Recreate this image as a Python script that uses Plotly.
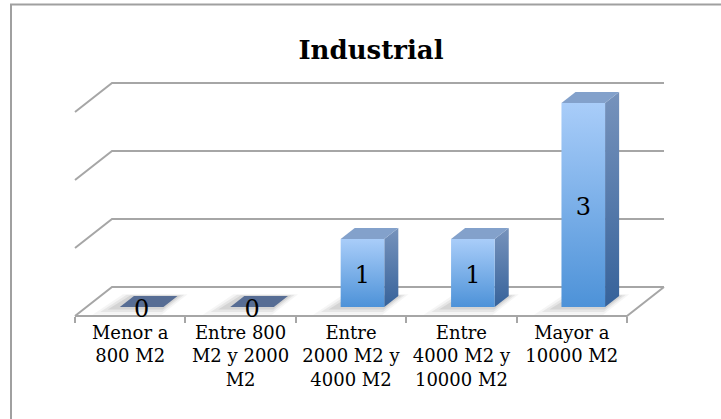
import plotly.graph_objects as go

# ---- data ----
categories = ["Menor a<br>800 M2", "Entre 800<br>M2 y 2000<br>M2", "Entre<br>2000 M2 y<br>4000 M2",
              "Entre<br>4000 M2 y<br>10000 M2", "Mayor a<br>10000 M2"]
values = [0, 0, 1, 1, 3]
gridvals = [0, 1, 2, 3]
title = "Industrial"

# ---- oblique projection (layout / styling) ----
W, H = 721, 419
PX0, PXC = 75, 110.4      # front plane: pixel of category 0 and pixels per category
PY0, PYV = 316, 68        # front plane: pixel of value 0 and pixels per value unit
DXP, DYP = 37, 29         # depth offset in pixels (front -> back)
DX, DY = DXP / PXC, DYP / PYV
N = len(categories)
BW = 0.395                # bar width (category units)
D0, D1 = 0.31, 0.69       # bar depth extent
LABEL_SHIFT = 4 / PYV     # small downward nudge of data labels

def P(c, v, d):
    return c + DX * d, v + DY * d

def poly(pts):
    xs = [P(*p)[0] for p in pts] + [P(*pts[0])[0]]
    ys = [P(*p)[1] for p in pts] + [P(*pts[0])[1]]
    return xs, ys

GRID = "#A6A6A6"
fig = go.Figure()

# back wall gridlines + left wall diagonals
gx, gy = [], []
for g in gridvals:
    for p in [(0, g, 0), (0, g, 1), (N, g, 1)]:
        x, y = P(*p); gx.append(x); gy.append(y)
    gx.append(None); gy.append(None)
# floor front and right edges
for p in [(0, 0, 0), (N, 0, 0), (N, 0, 1)]:
    x, y = P(*p); gx.append(x); gy.append(y)
fig.add_trace(go.Scatter(x=gx, y=gy, mode="lines", line=dict(color=GRID, width=2),
                         hoverinfo="skip", showlegend=False))

# soft shadows on the floor
for i, v in enumerate(values):
    cl = i + (1 - BW) / 2
    cr = cl + BW
    for k, (ex, op) in enumerate([(0.12, 0.04), (0.08, 0.06), (0.04, 0.08)]):
        xs, ys = poly([(cl - ex - 0.04, 0, D0 - ex * 2.2), (cr + ex * 0.6, 0, D0 - ex * 2.2),
                       (cr + ex * 0.6, 0, D1 + ex * 0.5), (cl - ex, 0, D1 + ex * 0.5)])
        fig.add_trace(go.Scatter(x=xs, y=ys, mode="lines", fill="toself",
                                 fillcolor=f"rgba(0,0,0,{op})", line=dict(width=0),
                                 hoverinfo="skip", showlegend=False))

# bars
for i, v in enumerate(values):
    cl = i + (1 - BW) / 2
    cr = cl + BW
    if v > 0:
        # side face
        xs, ys = poly([(cr, 0, D0), (cr, 0, D1), (cr, v, D1), (cr, v, D0)])
        fig.add_trace(go.Scatter(x=xs, y=ys, mode="lines", fill="toself", line=dict(width=0),
                                 fillgradient=dict(type="vertical",
                                                   start=P(0, 0, D0)[1], stop=P(0, v, D1)[1],
                                                   colorscale=[[0, "#36629A"], [1, "#7793BC"]]),
                                 hoverinfo="skip", showlegend=False))
        # top face
        xs, ys = poly([(cl, v, D0), (cr, v, D0), (cr, v, D1), (cl, v, D1)])
        fig.add_trace(go.Scatter(x=xs, y=ys, mode="lines", fill="toself", line=dict(width=0),
                                 fillcolor="#83A1CB", hoverinfo="skip", showlegend=False))
        # front face
        xs, ys = poly([(cl, 0, D0), (cr, 0, D0), (cr, v, D0), (cl, v, D0)])
        fig.add_trace(go.Scatter(x=xs, y=ys, mode="lines", fill="toself", line=dict(width=0),
                                 fillgradient=dict(type="vertical",
                                                   start=P(0, 0, D0)[1], stop=P(0, v, D0)[1],
                                                   colorscale=[[0, "#4D92D8"], [1, "#A9CDF9"]]),
                                 hoverinfo="skip", showlegend=False))
    else:
        xs, ys = poly([(cl, 0, D0), (cr, 0, D0), (cr, 0, D1), (cl, 0, D1)])
        fig.add_trace(go.Scatter(x=xs, y=ys, mode="lines", fill="toself", line=dict(width=0),
                                 fillcolor="#576D94", hoverinfo="skip", showlegend=False))

# data labels
lx = [P(i + 0.5, v / 2, D0)[0] for i, v in enumerate(values)]
ly = [P(i + 0.5, v / 2, D0)[1] - LABEL_SHIFT for i, v in enumerate(values)]
fig.add_trace(go.Scatter(x=lx, y=ly, mode="text", text=[str(v) for v in values],
                         textposition="middle center",
                         textfont=dict(family="DejaVu Serif", size=24, color="black"),
                         hoverinfo="skip", showlegend=False))

# category axis (labels + boundary ticks)
fig.add_trace(go.Scatter(x=[None], y=[None], xaxis="x2", yaxis="y", showlegend=False,
                         hoverinfo="skip"))

fig.update_layout(
    width=W, height=H,
    margin=dict(l=0, r=0, t=0, b=0, autoexpand=False),
    paper_bgcolor="white", plot_bgcolor="rgba(0,0,0,0)",
    xaxis=dict(range=[(0 - PX0) / PXC, (W - PX0) / PXC], visible=False, domain=[0, 1]),
    yaxis=dict(range=[(PY0 - H) / PYV, PY0 / PYV], visible=False, domain=[0, 1]),
    xaxis2=dict(domain=[PX0 / W, (PX0 + N * PXC) / W], range=[0, N], anchor="free",
                position=(H - PY0) / H, showgrid=False, zeroline=False, showline=False,
                tickmode="array", tickvals=[i + 0.5 for i in range(N)], ticktext=categories,
                ticks="", ticklabelstandoff=4,
                tickfont=dict(family="DejaVu Serif", size=18, color="black"),
                minor=dict(tickmode="array", tickvals=list(range(N + 1)), ticks="outside",
                           ticklen=6, tickwidth=2, tickcolor=GRID),
                automargin=False),
    title=dict(text=f"<b>{title}</b>", x=371 / W, y=1 - 50 / H, xanchor="center", yanchor="middle",
               xref="paper", yref="paper",
               font=dict(family="DejaVu Serif", size=26, color="black")),
    shapes=[dict(type="rect", xref="paper", yref="paper", x0=11 / W, x1=1.2, y0=-0.2,
                 y1=1 - 4.5 / H, line=dict(color="#A0A0A0", width=2), layer="above")],
)

fig.write_html("out.html")
